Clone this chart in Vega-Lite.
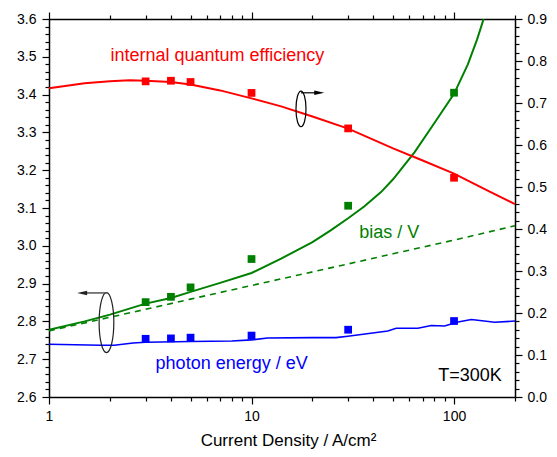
{
  "$schema": "https://vega.github.io/schema/vega-lite/v6.json",
  "width": 466,
  "height": 378,
  "autosize": {"type": "none"},
  "padding": {"left": 49, "top": 19, "right": 42, "bottom": 60},
  "background": "white",
  "config": {
    "view": {"stroke": null},
    "font": "Liberation Sans",
    "axis": {
      "grid": false,
      "domainColor": "#000000",
      "domainWidth": 1.5,
      "tickColor": "#000000",
      "tickWidth": 1.2,
      "labelColor": "#000000",
      "labelFont": "Liberation Sans",
      "labelFontSize": 14,
      "titleFont": "Liberation Sans",
      "titleFontSize": 17,
      "titleFontWeight": "normal",
      "titleColor": "#000000",
      "labelOverlap": false,
      "labelFlush": false,
      "labelBound": false
    }
  },
  "datasets": {
    "iqeLine": [
      {"j": 1, "v": 0.735}, {"j": 1.5, "v": 0.747}, {"j": 2, "v": 0.752}, {"j": 2.5, "v": 0.754},
      {"j": 3, "v": 0.753}, {"j": 4, "v": 0.75}, {"j": 5, "v": 0.744}, {"j": 7, "v": 0.73},
      {"j": 10, "v": 0.711}, {"j": 14, "v": 0.692}, {"j": 20, "v": 0.668}, {"j": 30, "v": 0.639},
      {"j": 50, "v": 0.592}, {"j": 70, "v": 0.563}, {"j": 100, "v": 0.532}, {"j": 150, "v": 0.489},
      {"j": 200, "v": 0.459}
    ],
    "iqePts": [
      {"j": 3, "v": 0.7515}, {"j": 4, "v": 0.753}, {"j": 5, "v": 0.75},
      {"j": 10, "v": 0.724}, {"j": 30, "v": 0.6395}, {"j": 100, "v": 0.522}
    ],
    "biasLine": [
      {"j": 1, "v": 2.778}, {"j": 1.5, "v": 2.8}, {"j": 2, "v": 2.818}, {"j": 3, "v": 2.847},
      {"j": 4, "v": 2.862}, {"j": 5, "v": 2.878}, {"j": 7, "v": 2.902}, {"j": 10, "v": 2.928},
      {"j": 14, "v": 2.966}, {"j": 16.2, "v": 2.984}, {"j": 20, "v": 3.01}, {"j": 24.6, "v": 3.041},
      {"j": 30, "v": 3.073}, {"j": 36, "v": 3.104}, {"j": 43.6, "v": 3.142}, {"j": 50, "v": 3.176},
      {"j": 63.9, "v": 3.248}, {"j": 80, "v": 3.325}, {"j": 100, "v": 3.402}, {"j": 117, "v": 3.48},
      {"j": 130, "v": 3.546}, {"j": 140, "v": 3.6}
    ],
    "biasDash": [
      {"j": 1, "v": 2.775}, {"j": 2, "v": 2.811}, {"j": 3, "v": 2.832}, {"j": 5, "v": 2.859},
      {"j": 10, "v": 2.895}, {"j": 20, "v": 2.931}, {"j": 30, "v": 2.952}, {"j": 50, "v": 2.979},
      {"j": 100, "v": 3.015}, {"j": 200, "v": 3.053}
    ],
    "biasPts": [
      {"j": 3, "v": 2.851}, {"j": 4, "v": 2.865}, {"j": 5, "v": 2.89},
      {"j": 10, "v": 2.965}, {"j": 30, "v": 3.106}, {"j": 100, "v": 3.405}
    ],
    "peLine": [
      {"j": 1, "v": 2.7395}, {"j": 1.8, "v": 2.737}, {"j": 2.1, "v": 2.737}, {"j": 2.6, "v": 2.743},
      {"j": 3, "v": 2.745}, {"j": 5, "v": 2.747}, {"j": 8, "v": 2.748}, {"j": 10, "v": 2.751},
      {"j": 12, "v": 2.756}, {"j": 20, "v": 2.757}, {"j": 26.1, "v": 2.757}, {"j": 29.9, "v": 2.7607},
      {"j": 47.1, "v": 2.7748}, {"j": 51.8, "v": 2.7819}, {"j": 66.3, "v": 2.7819}, {"j": 77.2, "v": 2.789},
      {"j": 89.8, "v": 2.788}, {"j": 104.6, "v": 2.7986}, {"j": 121.8, "v": 2.805}, {"j": 158.9, "v": 2.7977},
      {"j": 200, "v": 2.801}
    ],
    "pePts": [
      {"j": 3, "v": 2.754}, {"j": 4, "v": 2.755}, {"j": 5, "v": 2.757},
      {"j": 10, "v": 2.7625}, {"j": 30, "v": 2.778}, {"j": 100, "v": 2.801}
    ]
  },
  "layer": [
    {
      "encoding": {
        "x": {
          "field": "j", "type": "quantitative",
          "scale": {"type": "log", "domain": [1, 200]},
          "axis": {
            "orient": "bottom",
            "values": [1, 2, 3, 4, 5, 6, 7, 8, 9, 10, 20, 30, 40, 50, 60, 70, 80, 90, 100, 200],
            "labelExpr": "datum.value == 1 || datum.value == 10 || datum.value == 100 ? format(datum.value, 'd') : ''",
            "tickSize": {"condition": {"test": "datum.value == 1 || datum.value == 10 || datum.value == 100", "value": 7}, "value": 4},
            "labelPadding": 5,
            "title": "Current Density / A/cm²",
            "titleX": 239,
            "titlePadding": 9
          }
        },
        "y": {
          "field": "v", "type": "quantitative",
          "scale": {"domain": [2.6, 3.6], "zero": false},
          "axis": {
            "orient": "left",
            "values": [2.6,2.62,2.64,2.66,2.68,2.7,2.72,2.74,2.76,2.78,2.8,2.82,2.84,2.86,2.88,2.9,2.92,2.94,2.96,2.98,3.0,3.02,3.04,3.06,3.08,3.1,3.12,3.14,3.16,3.18,3.2,3.22,3.24,3.26,3.28,3.3,3.32,3.34,3.36,3.38,3.4,3.42,3.44,3.46,3.48,3.5,3.52,3.54,3.56,3.58,3.6],
            "labelExpr": "abs(datum.value * 10 - round(datum.value * 10)) < 0.01 ? format(datum.value, '.1f') : ''",
            "tickSize": {"condition": {"test": "abs(datum.value * 10 - round(datum.value * 10)) < 0.01", "value": 7}, "value": 4},
            "labelPadding": 6,
            "title": null
          }
        }
      },
      "layer": [
        {
          "data": {"name": "biasLine"},
          "mark": {"type": "line", "color": "#008000", "strokeWidth": 2, "clip": true}
        },
        {
          "data": {"name": "biasDash"},
          "mark": {"type": "line", "color": "#008000", "strokeWidth": 1.6, "strokeDash": [6, 5]}
        },
        {
          "data": {"name": "peLine"},
          "mark": {"type": "line", "color": "#0000ff", "strokeWidth": 1.6}
        },
        {
          "data": {"name": "biasPts"},
          "mark": {"type": "point", "shape": "square", "filled": true, "color": "#008000", "size": 60, "opacity": 1}
        },
        {
          "data": {"name": "pePts"},
          "mark": {"type": "point", "shape": "square", "filled": true, "color": "#0000ff", "size": 60, "opacity": 1}
        },
        {
          "data": {"values": [{"j": 2.012, "v": 3.502, "t": "internal quantum efficiency"}]},
          "mark": {"type": "text", "align": "left", "baseline": "middle", "fontSize": 18, "color": "#ff0000"},
          "encoding": {"text": {"field": "t"}}
        },
        {
          "data": {"values": [{"j": 34, "v": 3.033, "t": "bias / V"}]},
          "mark": {"type": "text", "align": "left", "baseline": "middle", "fontSize": 18, "color": "#008000"},
          "encoding": {"text": {"field": "t"}}
        },
        {
          "data": {"values": [{"j": 3.36, "v": 2.686, "t": "photon energy / eV"}]},
          "mark": {"type": "text", "align": "left", "baseline": "middle", "fontSize": 18, "color": "#0000ff"},
          "encoding": {"text": {"field": "t"}}
        },
        {
          "data": {"values": [{"j": 83.6, "v": 2.655, "t": "T=300K"}]},
          "mark": {"type": "text", "align": "left", "baseline": "middle", "fontSize": 18, "color": "#000000"},
          "encoding": {"text": {"field": "t"}}
        },
        {
          "data": {"values": [{"j": 1.922, "v": 2.797}]},
          "mark": {"type": "point", "shape": "M0,-1A0.245,1 0 1,1 0,1A0.245,1 0 1,1 0,-1Z", "filled": false, "size": 3600, "stroke": "#222222", "strokeWidth": 1.2, "opacity": 1}
        },
        {
          "data": {"values": [{"j": 1.53, "j2": 1.922, "v": 2.8753}]},
          "mark": {"type": "rule", "color": "#555555", "strokeWidth": 1.5},
          "encoding": {"x2": {"field": "j2"}}
        },
        {
          "data": {"values": [{"j": 1.457, "v": 2.8753}]},
          "mark": {"type": "point", "shape": "M-1,0L1,-0.45L1,0.45Z", "filled": true, "size": 100, "color": "#222222", "opacity": 1}
        }
      ]
    },
    {
      "encoding": {
        "x": {
          "field": "j", "type": "quantitative",
          "scale": {"type": "log", "domain": [1, 200]},
          "axis": {
            "orient": "top",
            "values": [1, 2, 3, 4, 5, 6, 7, 8, 9, 10, 20, 30, 40, 50, 60, 70, 80, 90, 100, 200],
            "labels": false,
            "tickSize": {"condition": {"test": "datum.value == 1 || datum.value == 10 || datum.value == 100", "value": 7}, "value": 4},
            "title": null
          }
        },
        "y": {
          "field": "v", "type": "quantitative",
          "scale": {"domain": [0, 0.9]},
          "axis": {
            "orient": "right",
            "values": [0,0.02,0.04,0.06,0.08,0.1,0.12,0.14,0.16,0.18,0.2,0.22,0.24,0.26,0.28,0.3,0.32,0.34,0.36,0.38,0.4,0.42,0.44,0.46,0.48,0.5,0.52,0.54,0.56,0.58,0.6,0.62,0.64,0.66,0.68,0.7,0.72,0.74,0.76,0.78,0.8,0.82,0.84,0.86,0.88,0.9],
            "labelExpr": "abs(datum.value * 10 - round(datum.value * 10)) < 0.01 ? format(datum.value, '.1f') : ''",
            "tickSize": {"condition": {"test": "abs(datum.value * 10 - round(datum.value * 10)) < 0.01", "value": 7}, "value": 4},
            "labelPadding": 5,
            "title": null
          }
        }
      },
      "layer": [
        {
          "data": {"name": "iqeLine"},
          "mark": {"type": "line", "color": "#ff0000", "strokeWidth": 2}
        },
        {
          "data": {"name": "iqePts"},
          "mark": {"type": "point", "shape": "square", "filled": true, "color": "#ff0000", "size": 60, "opacity": 1}
        },
        {
          "data": {"values": [{"j": 17.55, "v": 0.686}]},
          "mark": {"type": "point", "shape": "M0,-1A0.28,1 0 1,1 0,1A0.28,1 0 1,1 0,-1Z", "filled": false, "size": 1275, "stroke": "#000000", "strokeWidth": 1.2, "opacity": 1}
        },
        {
          "data": {"values": [{"j": 17.55, "j2": 20.6, "v": 0.7243}]},
          "mark": {"type": "rule", "color": "#000000", "strokeWidth": 1.2},
          "encoding": {"x2": {"field": "j2"}}
        },
        {
          "data": {"values": [{"j": 21.6, "v": 0.7243}]},
          "mark": {"type": "point", "shape": "M1,0L-1,-0.45L-1,0.45Z", "filled": true, "size": 100, "color": "#000000", "opacity": 1}
        }
      ]
    }
  ],
  "resolve": {"scale": {"y": "independent"}, "axis": {"x": "independent"}}
}
